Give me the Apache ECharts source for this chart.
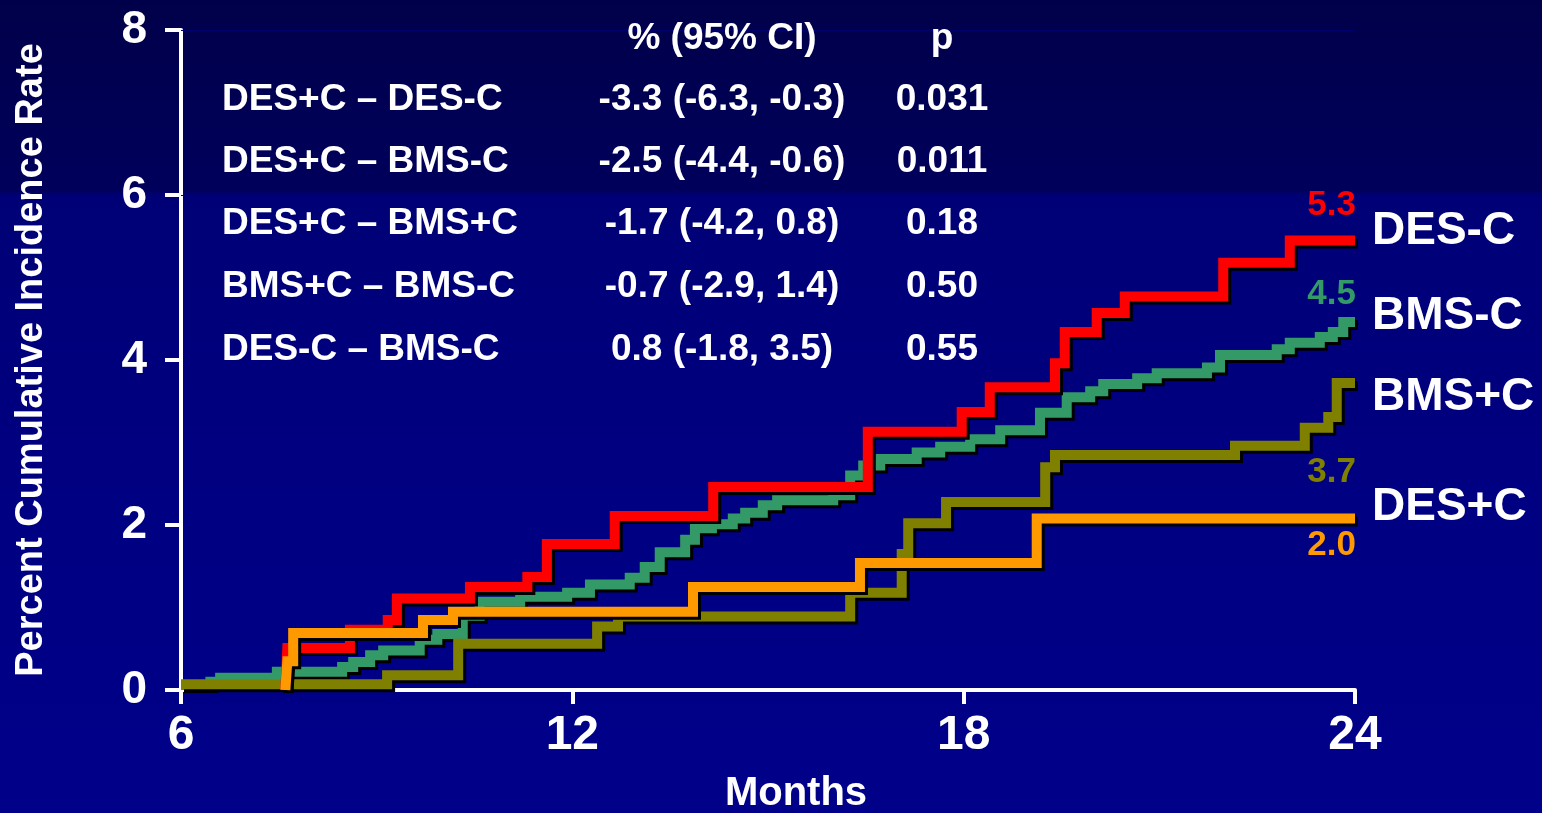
<!DOCTYPE html>
<html>
<head>
<meta charset="utf-8">
<script src="https://cdn.jsdelivr.net/npm/echarts@6/dist/echarts.min.js"></script>
<style>
html,body{margin:0;padding:0;background:#000080;}
#chart{width:1542px;height:813px;}
</style>
</head>
<body>
<div id="chart"></div>
<script>
// ---------- data ----------
const seriesNames = ['BMS-C', 'BMS+C', 'DES-C', 'DES+C'];
const seriesColors = ['#339966', '#808000', '#ff0000', '#ff9900'];

const bmsC_months = [6.0, 6.45, 6.6, 7.47, 8.47, 8.64, 8.90, 9.10, 9.66, 9.93, 10.32, 10.58, 11.20, 11.92, 12.27, 12.88, 13.11, 13.34, 13.73, 13.88, 14.14, 14.46, 14.65, 14.92, 15.14, 16.00, 16.26, 16.46, 16.72, 17.28, 17.64, 18.10, 18.56, 19.17, 19.58, 19.94, 20.14, 20.66, 20.96, 21.73, 21.93, 22.80, 23.00, 23.46, 23.66, 23.82, 24.00];
const bmsC_values = [0.06, 0.10, 0.15, 0.22, 0.28, 0.34, 0.42, 0.48, 0.61, 0.68, 0.90, 1.07, 1.13, 1.18, 1.28, 1.36, 1.49, 1.67, 1.82, 1.96, 2.01, 2.08, 2.15, 2.24, 2.30, 2.36, 2.60, 2.72, 2.80, 2.88, 2.95, 3.04, 3.15, 3.36, 3.55, 3.62, 3.71, 3.78, 3.84, 3.91, 4.06, 4.13, 4.21, 4.28, 4.34, 4.46, 4.46];

const bmsPlusC_months = [6.0, 9.16, 10.25, 12.38, 12.70, 16.26, 17.05, 17.15, 17.73, 19.25, 19.40, 22.16, 23.23, 23.59, 23.72, 24.0];
const bmsPlusC_values = [0.07, 0.18, 0.56, 0.77, 0.89, 1.18, 1.65, 2.02, 2.28, 2.70, 2.85, 2.96, 3.18, 3.31, 3.72, 3.72];

const desC_months = [7.60, 7.63, 8.59, 9.17, 9.31, 10.43, 11.31, 11.61, 12.65, 14.16, 16.53, 17.97, 18.40, 19.40, 19.55, 20.04, 20.47, 21.98, 23.00, 24.00];
const desC_values = [0, 0.51, 0.73, 0.85, 1.11, 1.25, 1.37, 1.77, 2.11, 2.46, 3.13, 3.37, 3.67, 3.96, 4.34, 4.57, 4.77, 5.18, 5.45, 5.45];

const desPlusC_months = [7.60, 7.63, 7.72, 9.71, 10.17, 13.85, 16.41, 19.12, 24.0];
const desPlusC_values = [0, 0.35, 0.69, 0.85, 0.95, 1.25, 1.54, 2.08, 2.08];

const finalLabels = ['4.5', '3.7', '5.3', '2.0'];

const xTicks = [6, 12, 18, 24];
const yTicks = [0, 2, 4, 6, 8];
const gridLineValues = [6, 8];

const tableHeader = ['% (95% CI)', 'p'];
const tableComparisons = ['DES+C \u2013 DES-C', 'DES+C \u2013 BMS-C', 'DES+C \u2013 BMS+C', 'BMS+C \u2013 BMS-C', 'DES-C \u2013 BMS-C'];
const tableEstimates = ['-3.3 (-6.3, -0.3)', '-2.5 (-4.4, -0.6)', '-1.7 (-4.2, 0.8)', '-0.7 (-2.9, 1.4)', '0.8 (-1.8, 3.5)'];
const tablePValues = ['0.031', '0.011', '0.18', '0.50', '0.55'];

const rightLabels = ['DES-C', 'BMS-C', 'BMS+C', 'DES+C'];

// ---------- build ----------
function pairs(ms, vs) { return ms.map((m, i) => [m, vs[i]]); }
const seriesData = [
  pairs(bmsC_months, bmsC_values),
  pairs(bmsPlusC_months, bmsPlusC_values),
  pairs(desC_months, desC_values),
  pairs(desPlusC_months, desPlusC_values)
];

const FONT = '"Liberation Sans", Arial, Helvetica, sans-serif';
const shadow = { textShadowColor: '#000', textShadowOffsetX: 2, textShadowOffsetY: 2, textShadowBlur: 0 };

const chart = echarts.init(document.getElementById('chart'), null, { renderer: 'canvas' });

const series = seriesData.map((d, i) => ({
  name: seriesNames[i],
  type: 'line',
  step: 'end',
  data: d,
  showSymbol: false,
  symbol: 'none',
  z: 2 + i,
  animation: false,
  lineStyle: {
    color: seriesColors[i],
    width: 10,
    join: 'miter',
    cap: 'butt',
    shadowColor: '#000',
    shadowOffsetX: 3,
    shadowOffsetY: 3,
    shadowBlur: 0
  },
  markLine: i === 0 ? {
    silent: true,
    symbol: 'none',
    label: { show: false },
    lineStyle: { color: '#000070', width: 1, type: 'solid' },
    data: gridLineValues.map(v => ({ yAxis: v })),
    z: 1
  } : undefined
}));

const option = {
  animation: false,
  backgroundColor: {
    type: 'linear', x: 0, y: 0, x2: 0, y2: 1,
    colorStops: [
      { offset: 0, color: '#00004a' },
      { offset: 0.235, color: '#00005c' },
      { offset: 0.24, color: '#000076' },
      { offset: 0.6, color: '#000082' },
      { offset: 1, color: '#00008a' }
    ]
  },
  grid: { left: 181, right: 187, top: 30, bottom: 123, containLabel: false, outerBoundsMode: 'none' },
  xAxis: {
    type: 'value',
    min: 6, max: 24, interval: 6,
    name: 'Months',
    nameLocation: 'middle',
    nameGap: 84,
    nameTextStyle: { color: '#fff', fontSize: 40, fontWeight: 'bold', fontFamily: FONT, padding: [0, 0, 0, 56], ...shadow },
    axisLine: { show: true, lineStyle: { color: '#fff', width: 4 } },
    axisTick: { show: true, inside: false, length: 14, lineStyle: { color: '#fff', width: 4 } },
    axisLabel: {
      color: '#fff', fontSize: 48, fontWeight: 'bold', fontFamily: FONT, margin: 22,
      formatter: v => xTicks.includes(v) ? String(v) : '',
      ...shadow
    },
    splitLine: { show: false }
  },
  yAxis: {
    type: 'value',
    min: 0, max: 8, interval: 2,
    name: 'Percent Cumulative Incidence Rate',
    nameLocation: 'middle',
    nameGap: 130,
    nameRotate: 90,
    nameTextStyle: { color: '#fff', fontSize: 38, fontWeight: 'bold', fontFamily: FONT, ...shadow },
    axisLine: { show: true, lineStyle: { color: '#fff', width: 4 } },
    axisTick: { show: true, inside: false, length: 16, lineStyle: { color: '#fff', width: 4 } },
    axisLabel: {
      color: '#fff', fontSize: 46, fontWeight: 'bold', fontFamily: FONT, margin: 34,
      formatter: v => yTicks.includes(v) ? String(v) : '',
      ...shadow
    },
    splitLine: { show: false }
  },
  series: series
};
chart.setOption(option);

// ---------- annotation text ----------
function txt(text, x, y, opts) {
  return {
    type: 'text',
    silent: true,
    z: 100,
    style: Object.assign({
      text: text, x: x, y: y,
      fill: '#fff',
      font: 'bold 37px ' + FONT,
      align: 'left',
      verticalAlign: 'middle',
      textShadowColor: '#000', textShadowOffsetX: 2, textShadowOffsetY: 2, textShadowBlur: 0
    }, opts || {})
  };
}

const graphics = [];
const rowY = [100, 162, 224, 287, 350];
graphics.push(txt(tableHeader[0], 722, 39, { align: 'center' }));
graphics.push(txt(tableHeader[1], 942, 39, { align: 'center' }));
tableComparisons.forEach((t, i) => {
  graphics.push(txt(t, 222, rowY[i]));
  graphics.push(txt(tableEstimates[i], 722, rowY[i], { align: 'center' }));
  graphics.push(txt(tablePValues[i], 942, rowY[i], { align: 'center' }));
});

// series end labels (positioned via the axes)
const labelOffsets = [0.34, -1.08, 0.42, -0.33]; // value-axis offsets from the series end value
seriesData.forEach((d, i) => {
  const last = d[d.length - 1];
  const p = chart.convertToPixel({ gridIndex: 0 }, [last[0], last[1] + labelOffsets[i]]);
  graphics.push(txt(finalLabels[i], p[0] + 1, p[1], {
    align: 'right', fill: seriesColors[i], font: 'bold 35px ' + FONT
  }));
});

// group names on the right
const rightY = [231, 316, 397, 507];
rightLabels.forEach((t, i) => {
  graphics.push(txt(t, 1372, rightY[i], { font: 'bold 46px ' + FONT }));
});

chart.setOption({ graphic: graphics });
</script>
</body>
</html>
